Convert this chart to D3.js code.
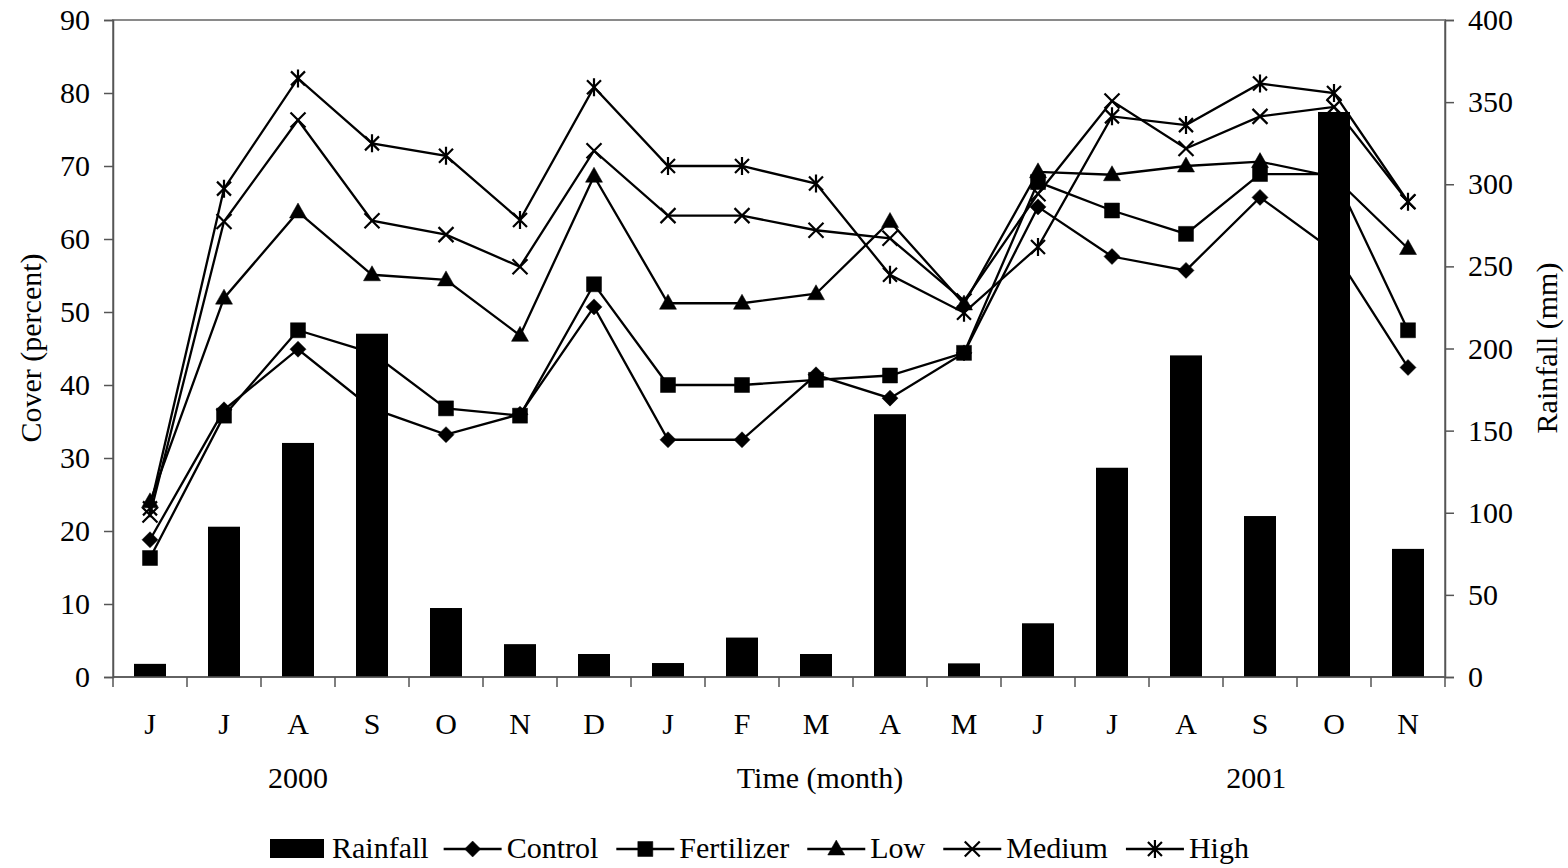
<!DOCTYPE html>
<html>
<head>
<meta charset="utf-8">
<script src="https://cdn.jsdelivr.net/npm/d3@7"></script>
<style>
  body { margin: 0; background: #fff; }
  svg { display: block; }
  text { font-family: "Liberation Serif", "Times New Roman", serif; fill: #000; }
</style>
</head>
<body>
<svg id="chart" width="1568" height="868"></svg>
<script>
// data
const months = ['J', 'J', 'A', 'S', 'O', 'N', 'D', 'J', 'F', 'M', 'A', 'M', 'J', 'J', 'A', 'S', 'O', 'N'];
const rainfall = [8, 91.5, 142.5, 209, 42, 20, 14, 8.5, 24, 14, 160, 8.3, 32.7, 127.4, 195.8, 98, 344, 78];
const control = [18.8, 36.6, 44.9, 36.8, 33.2, 36.0, 50.7, 32.5, 32.5, 41.4, 38.2, 44.4, 64.4, 57.6, 55.7, 65.7, 58.3, 42.4];
const fertilizer = [16.3, 35.8, 47.5, 44.4, 36.8, 35.8, 53.8, 40.0, 40.0, 40.7, 41.3, 44.4, 67.8, 63.9, 60.7, 68.9, 68.9, 47.5];
const low = [24.0, 51.9, 63.7, 55.1, 54.4, 46.8, 68.6, 51.2, 51.2, 52.5, 62.4, 51.1, 69.2, 68.8, 70.0, 70.6, 68.5, 58.7];
const medium = [22.2, 62.4, 76.3, 62.5, 60.6, 56.2, 72.1, 63.2, 63.2, 61.2, 60.1, 51.5, 66.2, 78.9, 72.4, 76.8, 78.1, 65.1];
const high = [23.1, 66.9, 82.0, 73.1, 71.4, 62.6, 80.8, 70.0, 70.0, 67.6, 55.1, 49.9, 58.9, 76.8, 75.6, 81.3, 80.0, 65.1];
const coverTicks = d3.range(0, 91, 10);
const rainTicks = d3.range(0, 401, 50);
const years = [{ label: '2000', at: 2.5 }, { label: '2001', at: 15.45 }];

const series = [
  { name: 'Control', values: control, marker: 'diamond' },
  { name: 'Fertilizer', values: fertilizer, marker: 'square' },
  { name: 'Low', values: low, marker: 'triangle' },
  { name: 'Medium', values: medium, marker: 'times' },
  { name: 'High', values: high, marker: 'asterisk' }
];

const plotLeft = 113, plotRight = 1445, plotTop = 20, plotBottom = 677;
const fontSize = '30px';

const svg = d3.select('#chart');

const x = d3.scaleBand().domain(d3.range(months.length)).range([plotLeft, plotRight]);
const yL = d3.scaleLinear().domain([0, 90]).range([plotBottom, plotTop]);
const yR = d3.scaleLinear().domain([0, 400]).range([plotBottom, plotTop]);
const cx = i => x(i) + x.bandwidth() / 2;

// marker shapes
const markerPath = {
  diamond: 'M0,-8L8,0L0,8L-8,0Z',
  square: 'M-7.5,-7.5H7.5V7.5H-7.5Z',
  triangle: 'M0,-9L8.5,6L-8.5,6Z',
  times: 'M-7.5,-7.5L7.5,7.5M7.5,-7.5L-7.5,7.5',
  asterisk: 'M-7,-7L7,7M7,-7L-7,7M0,-9L0,9'
};
const filled = m => m === 'diamond' || m === 'square' || m === 'triangle';

function drawMarker(g, m) {
  g.append('path')
    .attr('d', markerPath[m])
    .attr('fill', filled(m) ? '#000' : 'none')
    .attr('stroke', '#000')
    .attr('stroke-width', filled(m) ? 0.5 : 2.2);
}

// plot frame
svg.append('rect')
  .attr('x', plotLeft).attr('y', plotTop)
  .attr('width', plotRight - plotLeft).attr('height', plotBottom - plotTop)
  .attr('fill', 'none')
  .attr('stroke', '#8a8a8a')
  .attr('stroke-width', 2);

// lines and markers
const line = d3.line().x((d, i) => cx(i)).y(d => yL(d));

series.forEach(s => {
  svg.append('path')
    .datum(s.values)
    .attr('d', line)
    .attr('fill', 'none')
    .attr('stroke', '#000')
    .attr('stroke-width', 2.3);

  svg.append('g')
    .selectAll('g')
    .data(s.values)
    .enter().append('g')
    .attr('transform', (d, i) => `translate(${cx(i)},${yL(d)})`)
    .each(function () { drawMarker(d3.select(this), s.marker); });
});

// rainfall bars sit on top of the lines
const barW = 32;
svg.append('g')
  .selectAll('rect')
  .data(rainfall)
  .enter().append('rect')
  .attr('x', (d, i) => cx(i) - barW / 2)
  .attr('y', d => yR(d))
  .attr('width', barW)
  .attr('height', d => plotBottom - yR(d))
  .attr('fill', '#000');

// left axis
const axL = svg.append('g')
  .attr('transform', `translate(${plotLeft},0)`)
  .call(d3.axisLeft(yL).tickValues(coverTicks).tickSize(9).tickPadding(14));

// right axis
const axR = svg.append('g')
  .attr('transform', `translate(${plotRight},0)`)
  .call(d3.axisRight(yR).tickValues(rainTicks).tickSize(9).tickPadding(14));

[axL, axR].forEach(a => {
  a.attr('font-family', null).attr('font-size', null);
  a.selectAll('text').style('font-size', fontSize);
  a.select('.domain').attr('stroke', '#555').attr('stroke-width', 1.5);
  a.selectAll('.tick line').attr('stroke', '#555').attr('stroke-width', 1.5);
});

// bottom axis: line, boundary ticks, month labels
svg.append('line')
  .attr('x1', plotLeft).attr('x2', plotRight)
  .attr('y1', plotBottom).attr('y2', plotBottom)
  .attr('stroke', '#555').attr('stroke-width', 1.5);

svg.append('g')
  .selectAll('line')
  .data(d3.range(months.length + 1))
  .enter().append('line')
  .attr('x1', i => plotLeft + i * x.step())
  .attr('x2', i => plotLeft + i * x.step())
  .attr('y1', plotBottom).attr('y2', plotBottom + 10)
  .attr('stroke', '#555').attr('stroke-width', 1.5);

svg.append('g')
  .selectAll('text')
  .data(months)
  .enter().append('text')
  .attr('x', (d, i) => cx(i))
  .attr('y', 734)
  .attr('text-anchor', 'middle')
  .style('font-size', fontSize)
  .text(d => d);

svg.append('g')
  .selectAll('text')
  .data(years)
  .enter().append('text')
  .attr('x', d => x(0) + d.at * x.step())
  .attr('y', 788)
  .attr('text-anchor', 'middle')
  .style('font-size', fontSize)
  .text(d => d.label);

svg.append('text')
  .attr('x', 820).attr('y', 788)
  .attr('text-anchor', 'middle')
  .style('font-size', fontSize)
  .text('Time (month)');

// axis titles
svg.append('text')
  .attr('transform', 'translate(41,348) rotate(-90)')
  .attr('text-anchor', 'middle')
  .style('font-size', fontSize)
  .text('Cover (percent)');

svg.append('text')
  .attr('transform', 'translate(1557,348) rotate(-90)')
  .attr('text-anchor', 'middle')
  .style('font-size', fontSize)
  .text('Rainfall (mm)');

// legend
const legend = svg.append('g');
const ly = 858;
let lx = 270;
legend.append('rect')
  .attr('x', lx).attr('y', ly - 19)
  .attr('width', 54).attr('height', 19)
  .attr('fill', '#000');
lx += 62;
let t = legend.append('text').attr('x', lx).attr('y', ly).style('font-size', fontSize).text('Rainfall');
lx += t.node().getComputedTextLength() + 15;

series.forEach(s => {
  legend.append('line')
    .attr('x1', lx).attr('x2', lx + 58)
    .attr('y1', ly - 9).attr('y2', ly - 9)
    .attr('stroke', '#000').attr('stroke-width', 2.3);
  const m = legend.append('g').attr('transform', `translate(${lx + 29},${ly - 9})`);
  drawMarker(m, s.marker);
  lx += 63;
  t = legend.append('text').attr('x', lx).attr('y', ly).style('font-size', fontSize).text(s.name);
  lx += t.node().getComputedTextLength() + 18;
});
</script>
</body>
</html>
